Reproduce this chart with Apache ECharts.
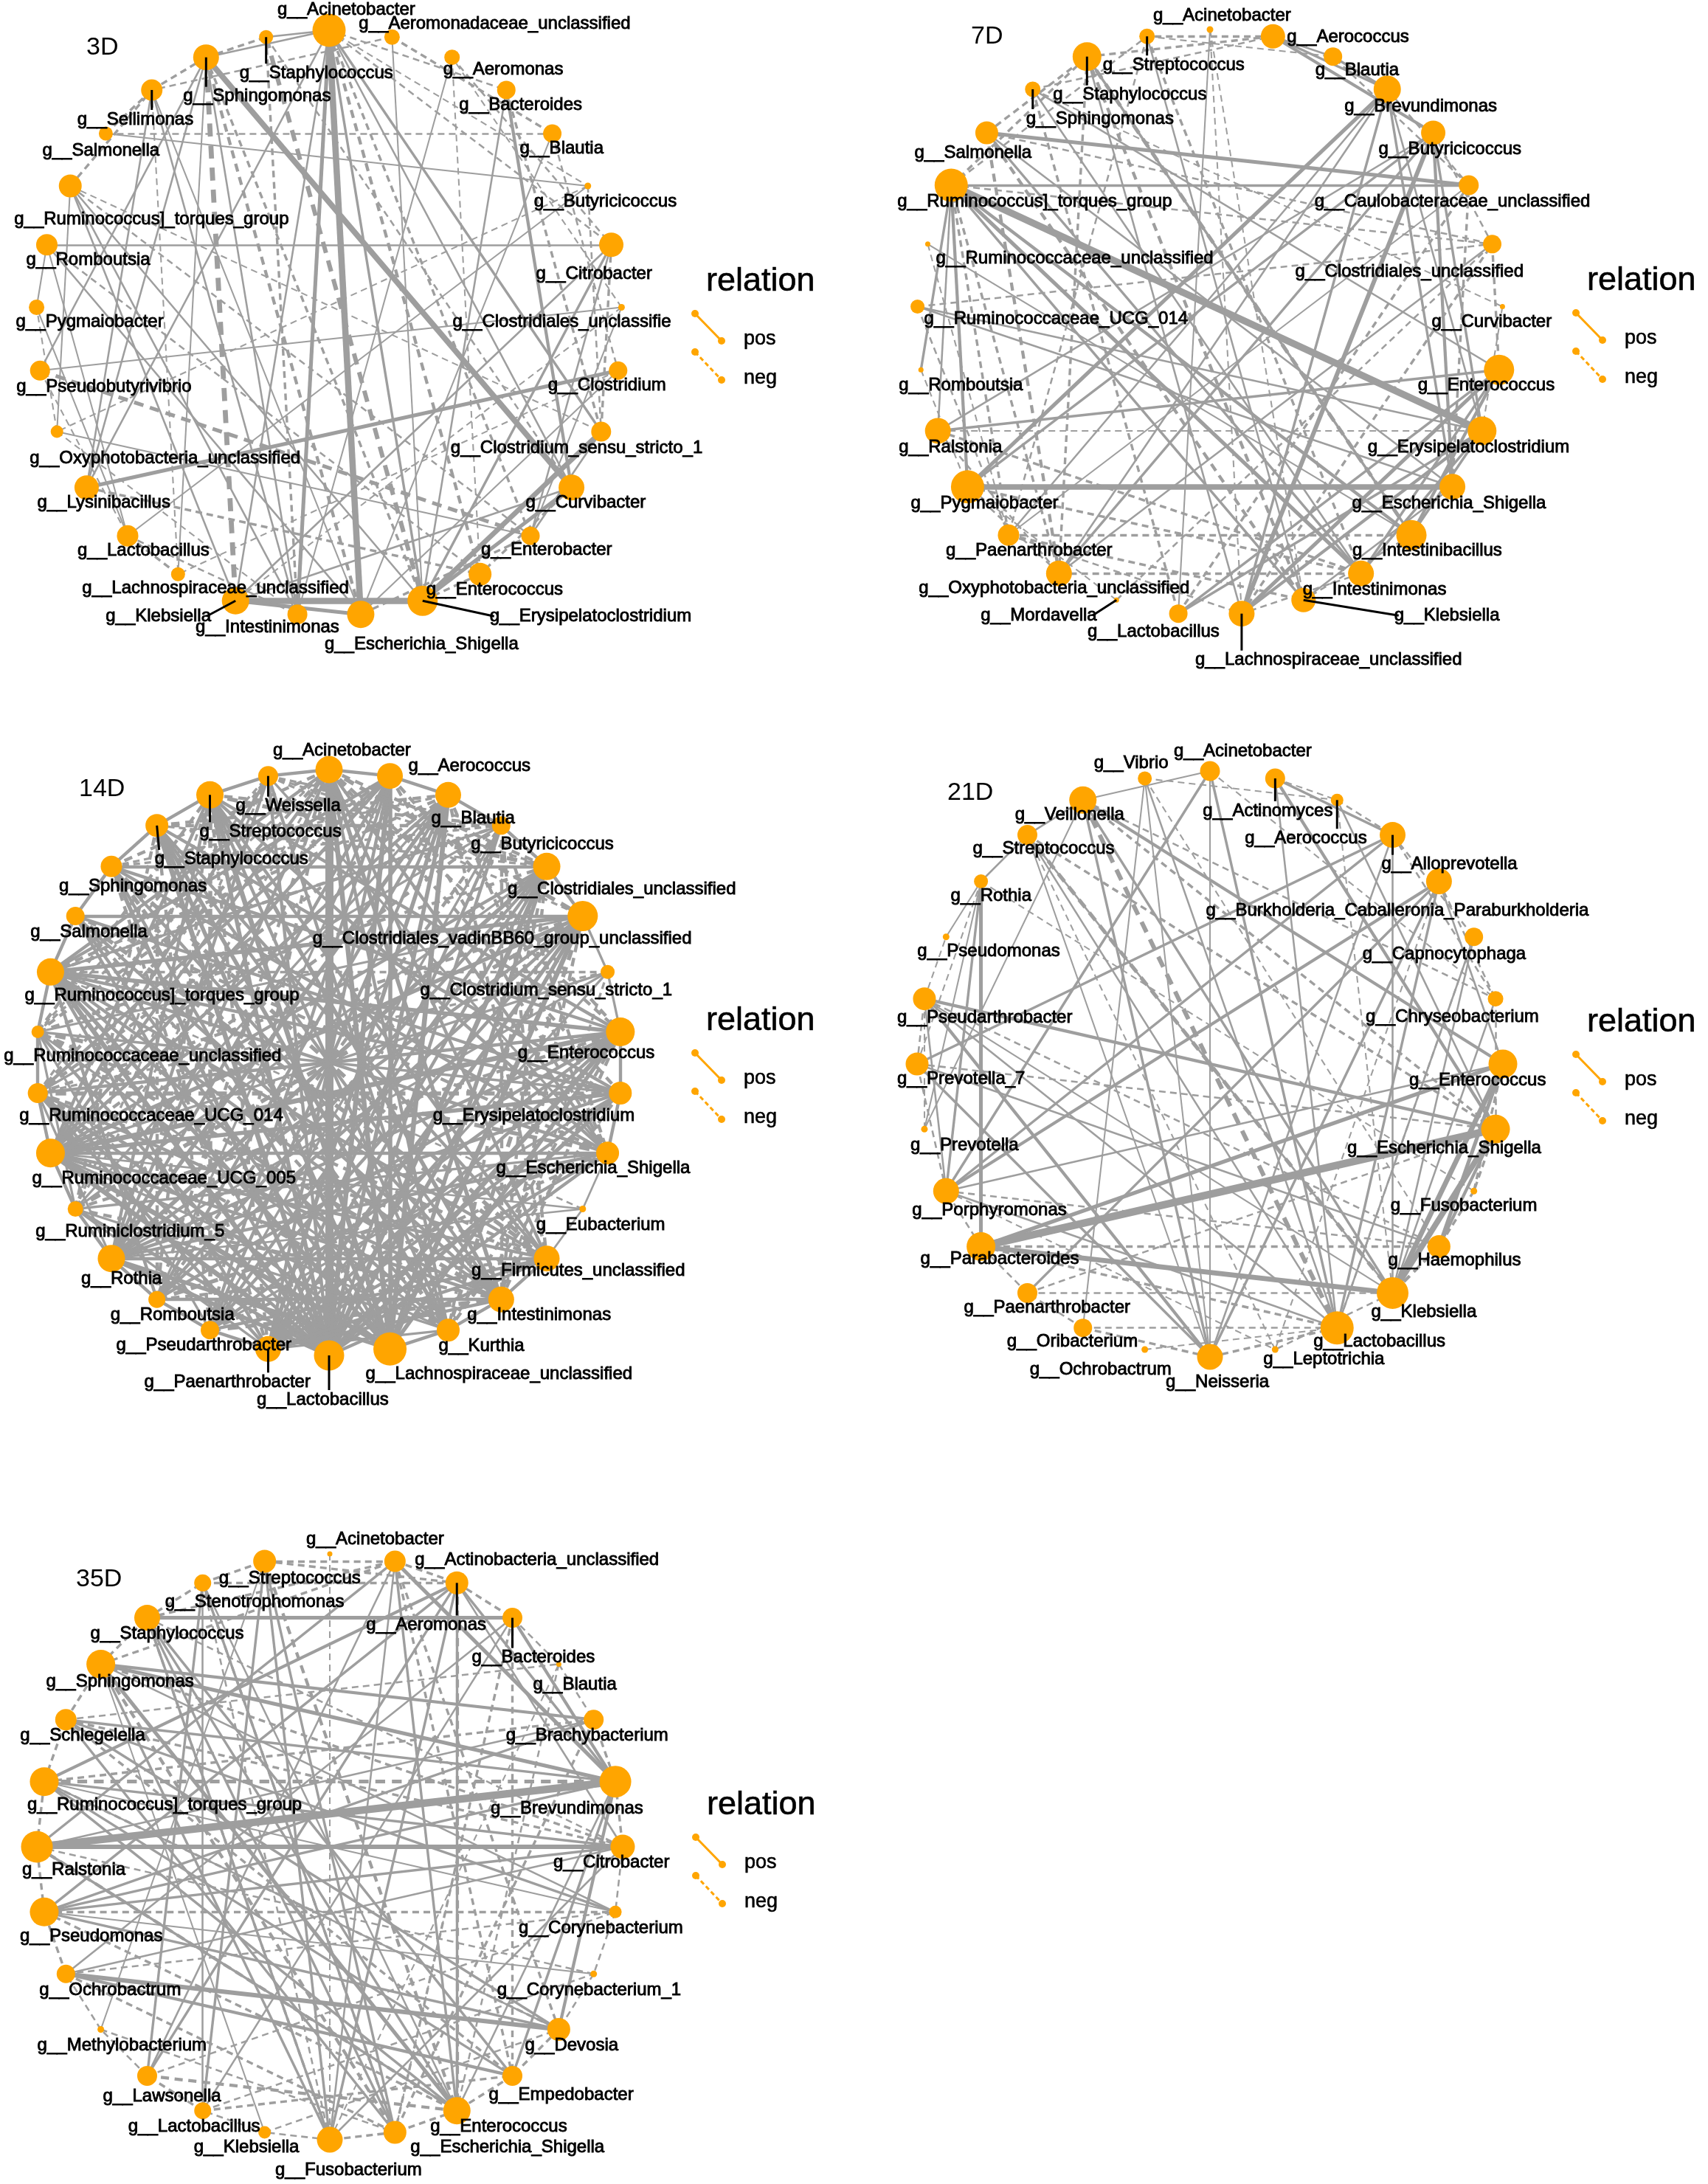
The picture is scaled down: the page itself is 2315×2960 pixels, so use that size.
<!DOCTYPE html>
<html>
<head>
<meta charset="UTF-8">
<title>co-occurrence networks</title>
<script src="https://cdn.jsdelivr.net/npm/echarts@6/dist/echarts.min.js"></script>
<style>
    html, body { margin: 0; padding: 0; background: #fff; }
    #main { width: 2315px; height: 2960px; }
</style>
</head>
<body>
<div id="main"></div>
<script>
// genera on each network, in plotting order (clockwise from the top)
var nodes3D = ['g__Acinetobacter','g__Aeromonadaceae_unclassified','g__Aeromonas','g__Bacteroides','g__Blautia','g__Butyricicoccus','g__Citrobacter','g__Clostridiales_unclassifie','g__Clostridium','g__Clostridium_sensu_stricto_1','g__Curvibacter','g__Enterobacter','g__Enterococcus','g__Erysipelatoclostridium','g__Escherichia_Shigella','g__Intestinimonas','g__Klebsiella','g__Lachnospiraceae_unclassified','g__Lactobacillus','g__Lysinibacillus','g__Oxyphotobacteria_unclassified','g__Pseudobutyrivibrio','g__Pygmaiobacter','g__Romboutsia','g__Ruminococcus]_torques_group','g__Salmonella','g__Sellimonas','g__Sphingomonas','g__Staphylococcus'];
var nodes7D = ['g__Acinetobacter','g__Aerococcus','g__Blautia','g__Brevundimonas','g__Butyricicoccus','g__Caulobacteraceae_unclassified','g__Clostridiales_unclassified','g__Curvibacter','g__Enterococcus','g__Erysipelatoclostridium','g__Escherichia_Shigella','g__Intestinibacillus','g__Intestinimonas','g__Klebsiella','g__Lachnospiraceae_unclassified','g__Lactobacillus','g__Mordavella','g__Oxyphotobacteria_unclassified','g__Paenarthrobacter','g__Pygmaiobacter','g__Ralstonia','g__Romboutsia','g__Ruminococcaceae_UCG_014','g__Ruminococcaceae_unclassified','g__Ruminococcus]_torques_group','g__Salmonella','g__Sphingomonas','g__Staphylococcus','g__Streptococcus'];
var nodes14D = ['g__Acinetobacter','g__Aerococcus','g__Blautia','g__Butyricicoccus','g__Clostridiales_unclassified','g__Clostridiales_vadinBB60_group_unclassified','g__Clostridium_sensu_stricto_1','g__Enterococcus','g__Erysipelatoclostridium','g__Escherichia_Shigella','g__Eubacterium','g__Firmicutes_unclassified','g__Intestinimonas','g__Kurthia','g__Lachnospiraceae_unclassified','g__Lactobacillus','g__Paenarthrobacter','g__Pseudarthrobacter','g__Romboutsia','g__Rothia','g__Ruminiclostridium_5','g__Ruminococcaceae_UCG_005','g__Ruminococcaceae_UCG_014','g__Ruminococcaceae_unclassified','g__Ruminococcus]_torques_group','g__Salmonella','g__Sphingomonas','g__Staphylococcus','g__Streptococcus','g__Weissella'];
var nodes21D = ['g__Acinetobacter','g__Actinomyces','g__Aerococcus','g__Alloprevotella','g__Burkholderia_Caballeronia_Paraburkholderia','g__Capnocytophaga','g__Chryseobacterium','g__Enterococcus','g__Escherichia_Shigella','g__Fusobacterium','g__Haemophilus','g__Klebsiella','g__Lactobacillus','g__Leptotrichia','g__Neisseria','g__Ochrobactrum','g__Oribacterium','g__Paenarthrobacter','g__Parabacteroides','g__Porphyromonas','g__Prevotella','g__Prevotella_7','g__Pseudarthrobacter','g__Pseudomonas','g__Rothia','g__Streptococcus','g__Veillonella','g__Vibrio'];
var nodes35D = ['g__Acinetobacter','g__Actinobacteria_unclassified','g__Aeromonas','g__Bacteroides','g__Blautia','g__Brachybacterium','g__Brevundimonas','g__Citrobacter','g__Corynebacterium','g__Corynebacterium_1','g__Devosia','g__Empedobacter','g__Enterococcus','g__Escherichia_Shigella','g__Fusobacterium','g__Klebsiella','g__Lactobacillus','g__Lawsonella','g__Methylobacterium','g__Ochrobactrum','g__Pseudomonas','g__Ralstonia','g__Ruminococcus]_torques_group','g__Schlegelella','g__Sphingomonas','g__Staphylococcus','g__Stenotrophomonas','g__Streptococcus'];

// node degree (drives point size)
var deg3D  = [20,8,8,10,10,2,14,2,10,11,15,10,13,18,16,11,16,7,12,14,6,11,8,12,13,7,12,15,7];
var deg7D  = [2,14,10,16,14,11,10,1,18,17,15,18,15,14,15,10,1,15,12,20,15,1,7,1,20,13,8,17,8];
var deg14D = [16,15,15,10,16,18,7,17,13,13,2,15,15,13,20,18,15,10,9,16,8,17,11,6,16,10,12,13,16,11];
var deg21D = [11,11,6,15,15,10,8,17,17,2,13,19,20,2,15,2,10,11,17,15,2,13,13,2,7,11,16,7];
var deg35D = [1,12,13,11,1,11,19,14,6,2,13,11,16,13,15,6,9,11,2,10,17,19,17,12,17,15,9,13];

// correlations: [from, to, strength]
var pos3D = [[0,14,5],[0,15,3],[0,13,2],[0,9,2],[0,10,1.5],[0,27,1.5],[0,28,1.5],[0,19,1.5],[0,16,1.5],
  [27,10,4.5],[27,21,1.5],[27,15,1.5],[27,17,1.2],[16,13,5],[16,14,3],[16,10,1.5],[19,8,3],[19,26,1.5],[19,27,1.5],
  [23,6,1.5],[23,14,1.5],[23,18,1.2],[23,22,1.2],[13,9,4],[13,10,3],[13,6,2],[3,10,2.5],[3,13,1.5],
  [25,5,1.2],[24,15,1.5],[24,16,1.5],[24,20,1.2],[24,13,1.5],[26,15,1.5],[26,14,1.2],[21,7,1.2],[22,18,1.2],
  [20,11,1.2],[6,16,1.5],[6,11,1.5],[7,11,1.2],[8,14,1.2],[9,11,1.5],[2,15,1.2],[1,13,1.2],[4,14,1.2],[5,18,1.2]];
var neg3D = [[27,16,4],[28,13,3.5],[27,14,2.5],[27,13,2],[25,4,1.5],[21,11,3],[0,11,2],[0,12,2.5],[0,5,1.2],[0,3,1.5],
  [0,6,1.5],[1,4,2],[2,6,1.5],[24,11,1.5],[24,26,2],[25,26,2],[26,27,2],[27,28,2],[3,9,2],[4,8,1.5],[5,9,1.5],
  [6,9,2],[10,12,2],[11,14,2],[12,13,2],[17,18,2],[18,15,1.5],[20,22,1.2],[21,18,1.2],[23,12,1.5],[26,17,1.2],
  [8,17,1.2],[7,16,1.2],[7,2,1.2],[5,20,1.2],[2,12,1.2],[19,12,2],[20,15,1.2],[24,9,1.2],[1,26,1.5],[28,15,2],[28,10,1.5]];

var pos7D = [[24,9,5.5],[19,10,4.5],[25,5,3],[24,5,2],[14,4,3.5],[14,8,3],[14,9,2.5],[14,3,2],[19,3,3],[19,4,2],
  [24,12,3],[24,11,2.5],[24,19,2.5],[24,21,2],[24,20,1.5],[17,4,2],[15,8,2],[15,9,2],[13,24,2],[11,27,2],[12,25,2],
  [20,8,2],[20,4,1.5],[18,3,1.5],[22,10,1.5],[3,10,2],[4,10,2.5],[4,9,2],[3,9,1.5],[1,4,2.5],[1,3,2],[1,2,1.5],
  [2,3,2],[8,11,2.5],[9,11,2],[8,12,2],[9,12,2],[10,13,1.5],[26,12,1.5],[27,14,1.5],[25,10,1.5],[22,9,1.5],
  [23,11,1.2],[0,15,1.2],[28,13,1.5],[6,17,1.5],[5,18,1.2],[26,8,1.5],[17,3,1.5]];
var neg7D = [[20,9,1.2],[27,11,3],[27,13,2.5],[25,13,2.5],[26,15,2],[28,12,2],[28,18,1.5],[27,17,2],[25,17,2.5],
  [24,18,2],[24,17,2],[22,18,1.5],[20,12,2],[19,12,2],[18,11,2],[18,13,2],[17,12,2],[18,14,1.5],[15,5,2],[16,6,1.5],
  [14,6,2],[10,5,2],[5,2,1.5],[6,8,2],[7,9,1.2],[28,2,1.2],[0,14,1.2],[0,13,1.2],[1,28,2],[27,1,2],[26,1,1.5],
  [25,27,2],[24,27,2],[24,28,1.5],[23,18,1.2],[21,19,1.2],[22,6,1.5],[26,7,1.2],[4,6,1.5],[3,5,1.5],[11,13,1.5],
  [12,14,1.5],[17,19,1.5],[16,19,1.2],[20,17,1.5],[24,6,1.5],[25,6,1.5]];

var pos14D = [[15,0,5],[15,1,3],[15,2,2.5],[15,3,2],[15,4,3],[15,5,2.5],[15,7,3],[15,8,2.5],[15,9,2],[15,11,2],
  [15,19,2.5],[15,20,2],[15,21,3],[15,22,2],[15,23,2],[15,24,3],[15,25,2],[15,26,2.5],[15,27,3],[15,28,2.5],[15,29,2],
  [14,0,3],[14,1,2.5],[14,2,3],[14,4,2.5],[14,5,3],[14,7,2.5],[14,19,2.5],[14,21,3],[14,22,2],[14,24,2.5],[14,25,2],
  [14,26,2],[14,27,2.5],[14,28,3],[21,7,3],[21,8,2.5],[21,5,2.5],[21,4,2],[21,9,2],[21,11,2],[21,12,2],[21,1,2],
  [21,2,2],[21,13,1.5],[21,28,2],[24,7,2.5],[24,8,2],[24,5,2.5],[24,9,2],[24,11,2],[24,12,2],[24,13,2],[24,1,2],
  [24,3,1.5],[19,4,2.5],[19,5,2],[19,1,2],[19,2,2.5],[19,28,2],[19,7,2],[19,9,2],[0,12,2.5],[0,13,2],[0,11,2],
  [0,9,2],[0,19,2],[0,21,2],[0,24,2],[28,12,2.5],[28,11,2],[28,9,2],[28,13,2],[28,7,2],[27,12,2],[27,13,2.5],
  [27,11,2],[27,8,2],[26,7,2],[26,9,2],[26,12,2],[26,4,2],[25,5,2],[25,8,2],[25,12,2],[29,13,2],[29,19,2],[29,21,2],
  [29,9,1.5],[1,22,2],[1,17,2],[1,18,1.5],[1,16,2],[2,17,2],[2,18,2],[2,16,2.5],[2,20,1.5],[3,16,2],[3,17,1.5],
  [3,22,1.5],[4,16,2],[4,17,2],[4,18,2],[4,20,1.5],[5,16,2.5],[5,17,2],[5,18,2],[5,23,1.5],[7,16,2],[7,17,2],
  [7,18,2],[7,22,2],[8,16,2],[8,17,1.5],[8,19,2],[8,23,1.5],[9,16,2],[9,20,1.5],[11,16,2],[11,17,2],[11,19,2],
  [12,16,2],[12,18,2],[12,22,2],[13,16,1.5],[13,20,1.5],[13,23,1.5],[16,20,1.5],[16,22,2],[16,24,2],[17,23,1.5],
  [18,24,2],[19,22,1.5],[20,23,1.5],[6,16,1.5],[6,19,1.5],[6,21,1.5],[10,19,1.2],[10,21,1.2],[22,23,2],[23,24,2],
  [24,25,2],[25,26,2],[26,27,2],[27,28,2],[28,29,2],[29,0,2],[0,1,2],[1,2,2],[2,3,2],[3,4,2],[4,5,2],[5,6,1.5],
  [6,7,1.5],[7,8,2],[8,9,2],[9,10,1.2],[10,11,1.2],[11,12,2],[12,13,2],[13,14,2],[16,17,2],[17,18,2],[18,19,2],
  [19,20,2],[20,21,2],[21,22,2]];
var neg14D = [[26,11,2.5],[26,13,2.5],[25,11,2.5],[25,9,2],[25,13,2],[23,12,2.5],[23,9,2.5],[23,4,2],[22,8,2.5],
  [22,11,2],[22,5,2],[20,5,2.5],[20,7,2],[20,12,2],[18,9,2.5],[18,11,2],[18,3,2],[17,9,2],[17,12,2.5],[16,26,2],
  [16,28,2],[17,27,2],[17,28,2.5],[18,27,2],[18,28,2],[20,27,2],[20,28,1.5],[20,29,1.5],[22,29,1.5],[23,29,1.5],
  [23,28,2],[26,0,2],[26,2,1.5],[26,3,1.5],[27,2,2],[27,3,2],[27,4,1.5],[28,3,2],[28,4,2.5],[29,3,1.5],[29,4,1.5],
  [29,5,1.5],[0,4,2],[0,5,2.5],[0,7,2],[0,8,2],[1,7,2],[1,9,2],[2,9,2],[2,11,2],[3,9,2],[3,11,2],[3,12,2],[4,12,2],
  [4,13,2],[5,12,2],[5,13,2.5],[6,12,1.5],[7,12,2],[7,13,2],[8,13,2],[0,17,2],[0,18,2],[0,20,1.5],[0,22,2],
  [0,23,1.5],[1,21,2],[1,23,2],[2,21,2],[2,22,2],[2,24,2],[3,21,2],[3,24,2],[6,24,1.5],[6,22,1.5],[10,24,1.2],
  [11,23,2],[13,22,2]];

var pos21D = [[18,8,6],[18,7,3],[18,11,4],[11,7,4],[11,8,4.5],[10,7,3],[10,8,2.5],[26,7,2.5],[22,8,2.5],[21,3,2],
  [24,18,3],[24,19,2],[14,26,2],[14,0,1.2],[22,14,2.5],[21,14,2],[12,27,1.5],[12,0,2],[12,1,1.5],[12,4,2],[12,5,1.5],
  [1,3,2],[26,11,2],[25,12,1.5],[25,14,1.2],[19,4,2.5],[19,3,2],[17,4,2],[16,27,1.2],[14,4,2],[14,3,1.5],[0,19,2],
  [0,26,1.2],[27,14,1.2],[1,8,2.5],[2,8,1.5],[4,7,1.5],[5,11,1.5],[6,11,1.5],[3,11,1.5],[22,11,1.2],[21,10,1.5],
  [20,26,1.2],[23,24,1.2],[24,25,1.5],[25,26,1.5],[19,7,1.5],[19,22,1.5],[20,24,1.2],[12,22,1.5],[12,19,1.5],[11,25,1.5]];
var neg21D = [[26,12,3.5],[25,11,3],[18,10,2],[25,8,2],[26,8,2],[26,6,1.5],[1,2,1.2],[2,3,1.5],[3,5,1.5],[3,6,1.5],
  [4,6,1.5],[4,13,1.2],[5,12,1.5],[6,8,1.5],[7,9,2],[8,9,2],[9,10,2],[10,11,2.5],[11,13,1.5],[12,14,2],[14,16,2],
  [16,17,1.5],[17,18,1.5],[18,19,1.5],[19,21,1.5],[21,22,1.5],[22,23,1.2],[21,24,1.2],[20,22,1.2],[17,11,1.5],
  [16,12,1.5],[15,12,1.2],[19,13,1.2],[22,10,1.5],[21,8,1.5],[24,9,1.2],[27,2,1.2],[0,6,1.2],[27,10,1.2],[25,13,1.2],
  [17,8,1.5],[19,10,1.5],[2,11,1.2],[18,12,2]];

var pos35D = [[21,6,6],[21,7,3.5],[25,3,3],[24,6,3],[24,5,2.5],[19,10,3.5],[20,7,2],[20,6,2],[1,6,3],[17,2,2],
  [14,25,2],[14,24,2],[14,2,2],[14,1,1.5],[14,27,2],[12,24,3],[12,21,2],[12,22,2],[12,25,2],[12,1,2],[12,2,2],
  [13,23,2],[13,26,2],[11,22,2],[11,25,2],[11,19,2.5],[10,20,2],[10,23,2],[10,22,1.5],[16,27,2],[16,26,1.5],[16,3,1.5],
  [17,26,2],[17,1,1.5],[20,5,2],[21,1,2],[22,7,2],[22,2,2.5],[23,8,2],[23,6,2],[24,8,1.5],[25,13,2],[26,12,1.5],
  [27,13,2],[2,20,2],[3,19,1.5],[5,21,1.5],[6,3,2.5],[6,2,2],[7,2,1.5],[7,19,1.5],[6,10,2.5],[6,11,2],[6,12,1.5],
  [7,14,1.5],[9,20,1.2],[8,22,1.2],[18,27,1.2],[15,24,1.2]];
var neg35D = [[0,14,1.2],[22,6,3],[24,7,2],[23,7,2],[25,7,1.5],[26,2,2],[27,1,2],[27,2,2],[25,1,2],[24,1,2],[1,2,2],
  [2,3,2],[3,4,1.5],[4,5,1.5],[5,6,2],[6,7,2],[7,8,1.5],[8,9,1.5],[9,10,1.5],[10,11,2],[11,12,2],[12,13,2],[13,14,2],
  [14,15,1.5],[15,16,1.5],[16,17,2],[17,18,1.5],[18,19,1.5],[19,20,2],[20,21,2],[21,22,2],[22,23,2],[23,24,2],
  [24,25,2],[25,26,2],[26,27,2],[21,12,2.5],[20,12,2],[19,13,2],[18,13,1.5],[17,12,2.5],[16,11,2],[15,10,1.5],
  [23,11,2],[22,10,2],[24,13,2.5],[25,14,2],[26,14,1.5],[2,12,2.5],[3,13,2],[3,11,2],[4,12,1.5],[5,13,2],[1,11,2],
  [1,10,2],[20,8,2],[19,8,1.5],[21,9,1.5],[22,5,2],[23,4,1.5],[17,8,1.5],[16,9,1.5],[14,4,1.2],[13,3,1.2],
  [27,12,2.5],[26,13,2]];

var days = ['3D', '7D', '14D', '21D', '35D'];

// label placement (repelled labels): [left edge relative to point, vertical shift]
var nudge3D = [[-70,-28],[-45,-18],[-12,17],[-64,20],[-44,20],[-73,21],[-102,40],[-229,20],[-95,20],[-204,22],
  [-62,21],[-67,19],[-73,21],[91,21],[-49,41],[-138,18],[-176,21],[-130,19],[-68,20],[-67,21],[-37,36],[-32,22],
  [-28,20],[-28,21],[-76,45],[-86,23],[-101,40],[-31,53],[-36,49]];
var nudge7D = [[-77,-19],[19,1],[-24,19],[-58,23],[-74,22],[-209,22],[-267,38],[-96,21],[-110,21],[-155,22],
  [-136,23],[-80,21],[-79,22],[123,21],[-63,63],[-123,25],[-184,21],[-190,20],[-85,21],[-77,23],[-53,22],[-30,21],
  [9,17],[11,20],[-73,22],[-98,27],[-9,40],[-46,52],[-60,39]];
var nudge14D = [[-76,-26],[25,-13],[-23,32],[-41,26],[-53,31],[-366,31],[-254,25],[-139,29],[-254,31],[-151,21],
  [-63,22],[-102,17],[-46,21],[-13,22],[-33,34],[-98,60],[-168,45],[-127,21],[-63,21],[-41,28],[-54,31],[-25,35],
  [-25,31],[-46,33],[-35,32],[-61,22],[-71,27],[-3,46],[-14,50],[-44,41]];
var nudge21D = [[-49,-27],[-98,44],[-125,52],[-15,40],[-316,40],[-151,24],[-176,25],[-127,22],[-201,26],[-113,20],
  [-69,19],[-29,26],[-32,19],[-16,13],[-60,34],[-156,27],[-103,19],[-86,20],[-82,17],[-46,26],[-19,22],[-27,20],
  [-37,26],[-39,20],[-41,20],[-74,19],[-92,20],[-69,-21]];
var nudge35D = [[-32,-20],[27,-2],[-123,57],[-55,54],[-35,28],[-119,22],[-169,37],[-94,21],[-131,22],[-131,22],
  [-46,22],[-32,26],[-36,22],[21,20],[-74,41],[-96,20],[-101,22],[-60,28],[-86,22],[-36,22],[-33,33],[-20,31],
  [-23,32],[-62,22],[-74,24],[-77,22],[-51,26],[-62,23]];
// labels tied to their point with a segment
var leaders = [[13,16,26,27,28], [13,14,16,26,27,28], [15,16,27,28,29], [1,2,3], [2,3]];

// panel layout (pixels); ws = edge width per unit of strength
var R = 397;
var panels = [
    {names: nodes3D,  deg: deg3D,  pos: pos3D,  neg: neg3D,  nudge: nudge3D,  ws: 1.7, cx: 446,  cy: 438,  tx: 117,  ty: 65},
    {names: nodes7D,  deg: deg7D,  pos: pos7D,  neg: neg7D,  nudge: nudge7D,  ws: 1.7, cx: 1640, cy: 437,  tx: 1316, ty: 50},
    {names: nodes14D, deg: deg14D, pos: pos14D, neg: neg14D, nudge: nudge14D, ws: 2.2, cx: 446,  cy: 1440, tx: 107,  ty: 1070},
    {names: nodes21D, deg: deg21D, pos: pos21D, neg: neg21D, nudge: nudge21D, ws: 1.7, cx: 1640, cy: 1442, tx: 1284, ty: 1075},
    {names: nodes35D, deg: deg35D, pos: pos35D, neg: neg35D, nudge: nudge35D, ws: 1.7, cx: 447,  cy: 2503, tx: 103,  ty: 2141}
];

var FONT = '"Liberation Sans", Arial, sans-serif';
var ORANGE = '#FFA500';
var EDGE = '#9e9e9e';

var measure = document.createElement('canvas').getContext('2d');
measure.font = '24px "Liberation Sans"';

var polar = [], angleAxis = [], radiusAxis = [], series = [], graphic = [];

panels.forEach(function (p, k) {
    polar.push({center: [p.cx, p.cy], radius: R});
    angleAxis.push({
        polarIndex: k, type: 'category', data: p.names, boundaryGap: false,
        startAngle: 90, clockwise: true,
        axisLine: {show: false}, axisTick: {show: false}, axisLabel: {show: false}, splitLine: {show: false}
    });
    radiusAxis.push({
        polarIndex: k, type: 'value', min: 0, max: 1,
        axisLine: {show: false}, axisTick: {show: false}, axisLabel: {show: false}, splitLine: {show: false}
    });

    var data = p.names.map(function (name, i) {
        return {
            name: name,
            value: [1, i],
            symbolSize: 5 + 2 * p.deg[i],
            label: {offset: [p.nudge[i][0], p.nudge[i][1]], align: 'left'}
        };
    });
    var links = [];
    p.pos.forEach(function (e) {
        links.push({source: e[0], target: e[1], lineStyle: {width: e[2] * p.ws, type: 'solid'}});
    });
    p.neg.forEach(function (e) {
        var w = e[2] * p.ws;
        links.push({source: e[0], target: e[1],
            lineStyle: {width: w, type: [Math.max(9, 2.6 * w), Math.max(6, 1.8 * w)]}});
    });

    series.push({
        type: 'graph',
        coordinateSystem: 'polar',
        polarIndex: k,
        silent: true,
        symbol: 'circle',
        itemStyle: {color: ORANGE},
        lineStyle: {color: EDGE, opacity: 1, curveness: 0},
        label: {
            show: true, position: 'inside', verticalAlign: 'middle',
            color: '#000', fontSize: 24, fontFamily: FONT,
            textBorderColor: '#000', textBorderWidth: 0.9
        },
        emphasis: {disabled: true},
        data: data,
        links: links
    });

    // day title
    graphic.push({type: 'text', x: p.tx, y: p.ty, z: 10,
        style: {text: days[k], fontSize: 34, fontFamily: FONT, fill: '#000', verticalAlign: 'middle'}});

    // relation key
    var lx = p.cx, ly = p.cy;
    graphic.push({type: 'text', x: lx + 511, y: ly - 56,
        style: {text: 'relation', fontSize: 45, fontFamily: FONT, fill: '#000', verticalAlign: 'middle',
            stroke: '#000', lineWidth: 0.6}});
    graphic.push({type: 'line', shape: {x1: lx + 496, y1: ly - 13, x2: lx + 532, y2: ly + 24},
        style: {stroke: ORANGE, lineWidth: 3}});
    graphic.push({type: 'circle', shape: {cx: lx + 496, cy: ly - 13, r: 5}, style: {fill: ORANGE}});
    graphic.push({type: 'circle', shape: {cx: lx + 532, cy: ly + 24, r: 5}, style: {fill: ORANGE}});
    graphic.push({type: 'text', x: lx + 562, y: ly + 22,
        style: {text: 'pos', fontSize: 27, fontFamily: FONT, fill: '#000', verticalAlign: 'middle',
            stroke: '#000', lineWidth: 0.6}});
    graphic.push({type: 'line', shape: {x1: lx + 496, y1: ly + 39, x2: lx + 532, y2: ly + 77},
        style: {stroke: ORANGE, lineWidth: 3, lineDash: [6, 4]}});
    graphic.push({type: 'circle', shape: {cx: lx + 496, cy: ly + 39, r: 5}, style: {fill: ORANGE}});
    graphic.push({type: 'circle', shape: {cx: lx + 532, cy: ly + 77, r: 5}, style: {fill: ORANGE}});
    graphic.push({type: 'text', x: lx + 562, y: ly + 75,
        style: {text: 'neg', fontSize: 27, fontFamily: FONT, fill: '#000', verticalAlign: 'middle',
            stroke: '#000', lineWidth: 0.6}});
});

var chart = echarts.init(document.getElementById('main'));
chart.setOption({
    backgroundColor: '#fff',
    animation: false,
    polar: polar,
    angleAxis: angleAxis,
    radiusAxis: radiusAxis,
    graphic: graphic,
    series: series
});

// segments from a point to its displaced label
var segs = [];
panels.forEach(function (p, k) {
    leaders[k].forEach(function (i) {
        var pt = chart.convertToPixel({polarIndex: k}, [1, i]);
        if (!pt) {
            var a = 2 * Math.PI * i / p.names.length;
            pt = [p.cx + R * Math.sin(a), p.cy - R * Math.cos(a)];
        }
        var w = measure.measureText(p.names[i]).width;
        var left = pt[0] + p.nudge[i][0], right = left + w, ly = pt[1] + p.nudge[i][1];
        var ex = Math.min(Math.max(pt[0], left + 6), right - 6);
        var ey = (pt[0] >= left && pt[0] <= right) ? ly + (p.nudge[i][1] > 0 ? -13 : 13) : ly;
        segs.push({type: 'line', z: 5, shape: {x1: pt[0], y1: pt[1], x2: ex, y2: ey},
            style: {stroke: '#000', lineWidth: 3}});
    });
});
chart.setOption({graphic: graphic.concat(segs)});
</script>
</body>
</html>
